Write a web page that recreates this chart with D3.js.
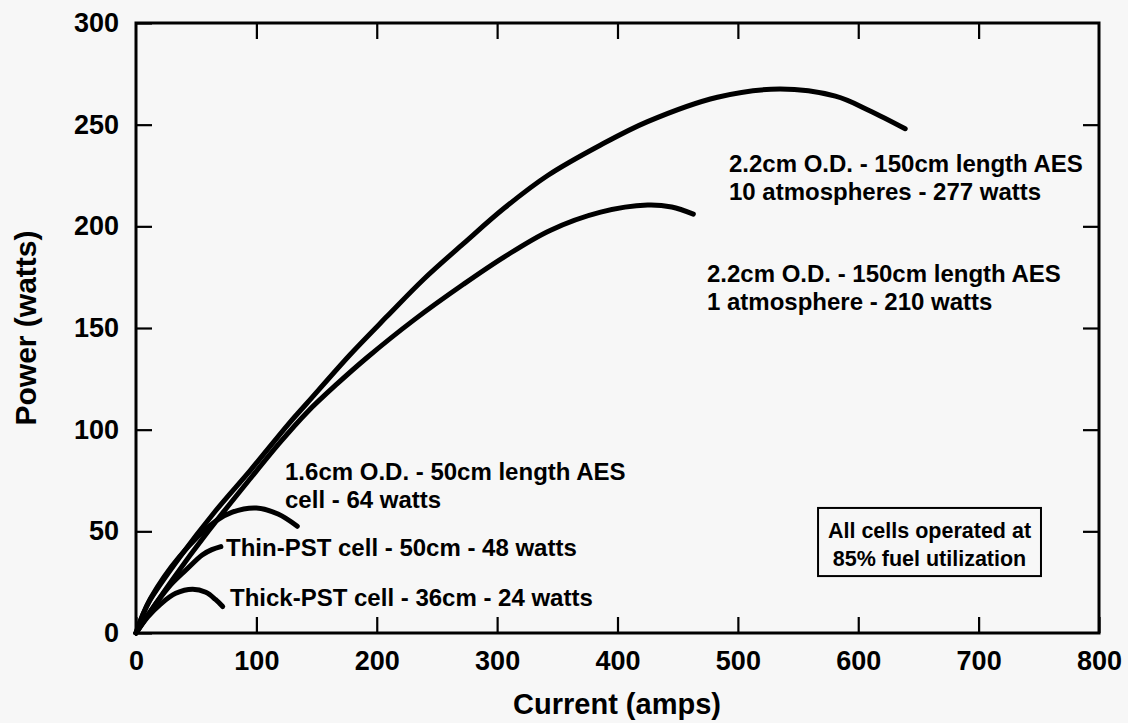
<!DOCTYPE html>
<html>
<head>
<meta charset="utf-8">
<script src="https://cdn.jsdelivr.net/npm/d3@7"></script>
<style>
  html, body { margin: 0; padding: 0; background: #f7f7f7; }
  svg { display: block; }
  text { font-family: "Liberation Sans", Arial, Helvetica, sans-serif; font-weight: bold; fill: #000; }
</style>
</head>
<body>
<svg id="chart" width="1128" height="723"></svg>
<script>
// ---- Data (current in amps, power in watts) ----
const aes10atmCurrent = [0, 5, 11, 36, 66, 95, 127, 142, 178, 209, 239, 272, 306, 342, 386, 425, 483, 535, 581, 609, 639];
const aes10atmPower   = [0, 8, 15.5, 37, 60, 80, 103, 113, 137, 156, 174, 191.5, 209, 225, 240, 251.5, 263.5, 267.5, 264, 257, 248];

const aes1atmCurrent = [0, 30, 60, 95, 120, 142, 167, 192, 231, 272, 306, 344, 386, 425, 445, 463];
const aes1atmPower   = [0, 26, 50, 76, 94, 108.5, 122.5, 135.5, 154, 171.5, 185, 198, 207, 210.5, 209.5, 206];

const aes16Current = [0, 5, 12, 36, 66, 80, 100, 118, 134];
const aes16Power   = [0, 8, 17, 37.5, 55, 59.5, 61.5, 58.5, 52.5];

const thinPstCurrent = [0, 10, 27, 41.5, 55, 63, 70.5];
const thinPstPower   = [0, 9, 22.5, 31, 38.4, 41, 42.5];

const thickPstCurrent = [0, 10, 20, 33, 47, 58, 66, 72];
const thickPstPower   = [0, 8, 14, 19.5, 21.5, 20, 16.5, 13];

const xTicks = [0, 100, 200, 300, 400, 500, 600, 700, 800];
const yTicks = [0, 50, 100, 150, 200, 250, 300];

const xTitle = "Current (amps)";
const yTitle = "Power (watts)";

// Annotation text, anchored in data units (amps, watts)
const labelLines = [
  ["2.2cm O.D. - 150cm length AES", "10 atmospheres - 277 watts"],
  ["2.2cm O.D. - 150cm length AES", "1 atmosphere - 210 watts"],
  ["1.6cm O.D. - 50cm length AES", "cell - 64 watts"],
  ["Thin-PST cell - 50cm - 48 watts"],
  ["Thick-PST cell - 36cm - 24 watts"]
];
const labelAnchorCurrent = [492.6, 474.3, 123.8, 74.8, 78.1];
const labelAnchorPower   = [226.5, 172.5, 75.2, 38.0, 13.4];

const noteLines = ["All cells operated at", "85% fuel utilization"];
const noteBoxCurrent = [566.6, 751.8];
const notePower = [61.5, 28.0];

// ---- Build series ----
const series = [
  [aes10atmCurrent, aes10atmPower],
  [aes1atmCurrent, aes1atmPower],
  [aes16Current, aes16Power],
  [thinPstCurrent, thinPstPower],
  [thickPstCurrent, thickPstPower]
].map(([xs, ys]) => xs.map((x, i) => ({ x, y: ys[i] })));

// ---- Layout ----
const svg = d3.select("#chart");
const x = d3.scaleLinear().domain([0, 800]).range([136, 1099]);
const y = d3.scaleLinear().domain([0, 300]).range([633, 23]);

svg.append("rect").attr("width", 1128).attr("height", 723).attr("fill", "#f7f7f7");

// Curves
const line = d3.line().x(d => x(d.x)).y(d => y(d.y)).curve(d3.curveCatmullRom.alpha(0.5));
svg.append("g").selectAll("path").data(series).join("path")
  .attr("d", line)
  .attr("fill", "none")
  .attr("stroke", "#000")
  .attr("stroke-width", 5)
  .attr("stroke-linecap", "round")
  .attr("stroke-linejoin", "round");

// Axes (ticks inward on all four sides)
const tickLen = 16;
const axisStyle = g => {
  g.select(".domain").remove();
  g.selectAll(".tick line").attr("stroke", "#000").attr("stroke-width", 2.2);
};
svg.append("g").attr("transform", `translate(0,${y(0)})`)
  .call(d3.axisBottom(x).tickValues(xTicks).tickSize(-tickLen).tickPadding(12).tickFormat(d3.format("d")))
  .call(axisStyle)
  .call(g => g.selectAll(".tick text").attr("font-size", 27).attr("dy", "0.93em").attr("fill", "#000"));
svg.append("g").attr("transform", `translate(0,${y(300)})`)
  .call(d3.axisTop(x).tickValues(xTicks.slice(1, -1)).tickSize(-tickLen).tickFormat(""))
  .call(axisStyle);
svg.append("g").attr("transform", `translate(${x(0)},0)`)
  .call(d3.axisLeft(y).tickValues(yTicks).tickSize(-tickLen).tickPadding(17).tickFormat(d3.format("d")))
  .call(axisStyle)
  .call(g => g.selectAll(".tick text").attr("font-size", 27).attr("fill", "#000"));
svg.append("g").attr("transform", `translate(${x(800)},0)`)
  .call(d3.axisRight(y).tickValues(yTicks.slice(1, -1)).tickSize(-tickLen).tickFormat(""))
  .call(axisStyle);

// Frame
svg.append("rect")
  .attr("x", x(0)).attr("y", y(300))
  .attr("width", x(800) - x(0)).attr("height", y(0) - y(300))
  .attr("fill", "none").attr("stroke", "#000").attr("stroke-width", 3);

// Axis titles
svg.append("text").attr("x", 617).attr("y", 714)
  .attr("text-anchor", "middle").attr("font-size", 29).text(xTitle);
svg.append("text").attr("transform", `translate(36,${(y(0) + y(300)) / 2}) rotate(-90)`)
  .attr("text-anchor", "middle").attr("font-size", 30).text(yTitle);

// Curve labels
labelLines.forEach((lines, i) => {
  const t = svg.append("text").attr("font-size", 24)
    .attr("x", x(labelAnchorCurrent[i])).attr("y", y(labelAnchorPower[i]));
  lines.forEach((s, j) => t.append("tspan")
    .attr("x", x(labelAnchorCurrent[i])).attr("dy", j === 0 ? 0 : 28).text(s));
});

// Note box
svg.append("rect")
  .attr("x", x(noteBoxCurrent[0])).attr("y", y(notePower[0]))
  .attr("width", x(noteBoxCurrent[1]) - x(noteBoxCurrent[0]))
  .attr("height", y(notePower[1]) - y(notePower[0]))
  .attr("fill", "none").attr("stroke", "#000").attr("stroke-width", 2);
const noteX = (x(noteBoxCurrent[0]) + x(noteBoxCurrent[1])) / 2;
const nt = svg.append("text").attr("font-size", 21.5).attr("text-anchor", "middle")
  .attr("x", noteX).attr("y", y(notePower[0]) + 30);
noteLines.forEach((s, j) => nt.append("tspan").attr("x", noteX).attr("dy", j === 0 ? 0 : 28).text(s));
</script>
</body>
</html>
